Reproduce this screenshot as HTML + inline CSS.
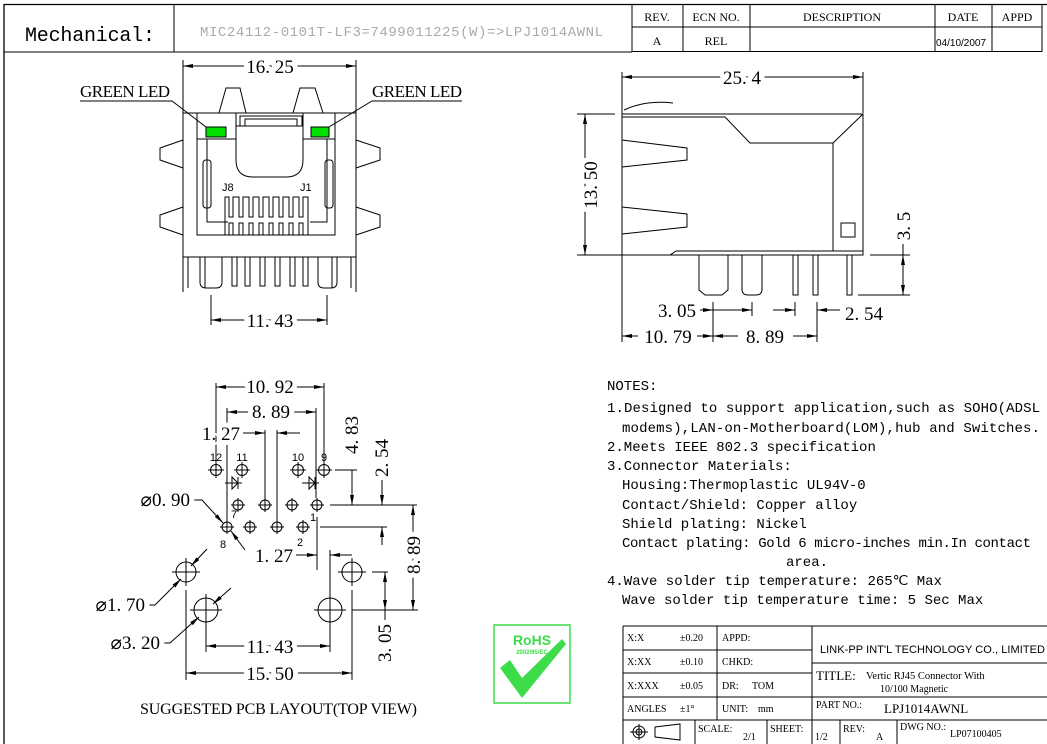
<!DOCTYPE html>
<html><head><meta charset="utf-8"><style>
html,body{margin:0;padding:0;background:#fff;}
svg{display:block;}
.s{font-family:"Liberation Serif",serif;fill:#000;}
.m{font-family:"Liberation Mono",monospace;fill:#000;}
.a{font-family:"Liberation Sans",sans-serif;fill:#000;}
.h text{stroke:#fff;stroke-width:10px;paint-order:stroke;stroke-linejoin:round;}
</style></head><body>
<svg width="1047" height="744" viewBox="0 0 1047 744" xmlns="http://www.w3.org/2000/svg">
<defs>
<marker id="ar" viewBox="0 0 10 4" refX="10" refY="2" markerWidth="10" markerHeight="4" markerUnits="userSpaceOnUse" orient="auto-start-reverse"><path d="M0,0 L10,2 L0,4 Z" fill="#000"/></marker>
</defs>
<g fill="none" stroke="#000" stroke-width="1">
<line x1="4" y1="4.5" x2="1047" y2="4.5" stroke-width="1.3"/>
<line x1="4" y1="4" x2="4" y2="744" stroke-width="1.3"/>
<line x1="174" y1="4" x2="174" y2="52"/>
<line x1="4" y1="52" x2="632" y2="52"/>
<rect x="632" y="4.5" width="410" height="47"/>
<line x1="632" y1="27" x2="1042" y2="27"/>
<line x1="683" y1="4" x2="683" y2="52"/>
<line x1="750" y1="4" x2="750" y2="52"/>
<line x1="935" y1="4" x2="935" y2="52"/>
<line x1="992" y1="4" x2="992" y2="52"/>

<line x1="183" y1="60" x2="183" y2="292"/>
<line x1="356" y1="60" x2="356" y2="292"/>
<line x1="183" y1="66" x2="356" y2="66" marker-start="url(#ar)" marker-end="url(#ar)"/>
<line x1="183" y1="113" x2="356" y2="113"/>
<path d="M219,113 L226,88 L240,88 L246,113"/>
<path d="M293,113 L300,88 L315,88 L323,113"/>
<path d="M183,140 L160,148 L160,160 L183,168"/>
<path d="M183,207 L160,215 L160,227 L183,235"/>
<path d="M356,140 L380,148 L380,160 L356,168"/>
<path d="M356,207 L380,215 L380,227 L356,235"/>
<rect x="197" y="113" width="138" height="122"/>
<line x1="197" y1="139" x2="236" y2="139"/>
<line x1="303" y1="139" x2="335" y2="139"/>
<path d="M236,113 V126 M303,113 V126"/>
<path d="M240,126 V116 H302 V126"/>
<path d="M245,126 V119 H297 V126"/>
<path d="M236,126 H303 V160 Q303,177 286,177 H253 Q236,177 236,160 Z"/>
<rect x="206" y="127" width="20" height="10" fill="#00e000"/>
<rect x="311" y="127" width="18" height="10" fill="#00e000"/>
<path d="M80,101 H172 L206,127"/>
<path d="M462,101 H372 L329,127"/>
<path d="M207,139 V222 H228 M327,139 V222 H310"/>
<rect x="203" y="160" width="8" height="48" rx="3"/>
<rect x="325" y="160" width="8" height="48" rx="3"/>
<path d="M225,235 V197 H229 V217 H233 V197 H239 V217 H243 V197 H249 V217 H253 V197 H259 V217 H263 V197 H269 V217 H273 V197 H279 V217 H283 V197 H289 V217 H293 V197 H299 V217 H303 V197 H308 V235"/>
<path d="M229,235 V223 H233 V235 M239,235 V223 H243 V235 M249,235 V223 H253 V235 M259,235 V223 H263 V235 M269,235 V223 H273 V235 M279,235 V223 H283 V235 M289,235 V223 H293 V235 M299,235 V223 H303 V235"/>
<line x1="183" y1="257" x2="356" y2="257"/>
<path d="M188,257 V288 M351,257 V288"/>
<path d="M200,257 V282 Q200,288 206,288 H216 Q222,288 222,282 V257 M205,257 V288"/>
<path d="M318,257 V282 Q318,288 324,288 H331 Q337,288 337,282 V257 M332,257 V288"/>
<path d="M232,257 V286 H237 V257 M245,257 V286 H250 V257 M260,257 V286 H265 V257 M275,257 V286 H280 V257 M290,257 V286 H295 V257 M303,257 V286 H308 V257"/>
<path d="M211,295 V325 M327,295 V325"/>
<line x1="211" y1="320" x2="327" y2="320" marker-start="url(#ar)" marker-end="url(#ar)"/>

<line x1="622" y1="72" x2="622" y2="342"/>
<line x1="863" y1="72" x2="863" y2="113"/>
<line x1="622" y1="77" x2="863" y2="77" marker-start="url(#ar)" marker-end="url(#ar)"/>
<path d="M622,114 H863 V255 H622 Z"/>
<path d="M624,110 Q645,100 673,103"/>
<path d="M622,117 H725 L750,143 H833 L863,114 M833,143 V251 H863"/>
<path d="M670,255 L676,251 H833"/>
<path d="M622,140 L687,148 V160 L622,167"/>
<path d="M622,207 L687,214 V227 L622,234"/>
<rect x="841" y="223" width="14" height="14"/>
<path d="M699,255 V290 L705,295 H722 L728,290 V255"/>
<path d="M742,255 V289 Q742,295 748,295 H756 Q762,295 762,289 V255"/>
<rect x="793" y="255" width="5" height="40"/>
<rect x="813" y="255" width="5" height="40"/>
<rect x="847" y="255" width="5" height="40"/>
<line x1="577" y1="114" x2="615" y2="114"/>
<line x1="577" y1="255" x2="622" y2="255"/>
<line x1="585" y1="114" x2="585" y2="255" marker-start="url(#ar)" marker-end="url(#ar)"/>
<line x1="870" y1="255" x2="910" y2="255"/>
<line x1="858" y1="295" x2="910" y2="295"/>
<line x1="903" y1="244" x2="903" y2="255"/>
<line x1="903" y1="255" x2="903" y2="295" marker-start="url(#ar)" marker-end="url(#ar)"/>
<line x1="713" y1="302" x2="713" y2="342"/>
<line x1="752" y1="302" x2="752" y2="316"/>
<line x1="700" y1="310" x2="713" y2="310" marker-end="url(#ar)"/>
<line x1="713" y1="310" x2="752" y2="310" marker-end="url(#ar)"/>
<line x1="795" y1="302" x2="795" y2="316"/>
<line x1="817" y1="302" x2="817" y2="342"/>
<line x1="773" y1="310" x2="795" y2="310" marker-end="url(#ar)"/>
<line x1="840" y1="310" x2="817" y2="310" marker-end="url(#ar)"/>
<line x1="638" y1="336" x2="622" y2="336" marker-end="url(#ar)"/>
<line x1="697" y1="336" x2="713" y2="336" marker-end="url(#ar)"/>
<line x1="738" y1="336" x2="713" y2="336" marker-end="url(#ar)"/>
<line x1="793" y1="336" x2="817" y2="336" marker-end="url(#ar)"/>

<circle cx="238" cy="505" r="5"/><circle cx="265" cy="505" r="5"/><circle cx="292" cy="505" r="5"/><circle cx="317" cy="505" r="5"/>
<circle cx="227" cy="527" r="5"/><circle cx="250" cy="527" r="5"/><circle cx="277" cy="527" r="5"/><circle cx="303" cy="527" r="5"/>
<circle cx="216" cy="470" r="5.5"/><circle cx="242" cy="470" r="5.5"/><circle cx="298" cy="470" r="5.5"/><circle cx="324" cy="470" r="5.5"/>
<circle cx="186" cy="572" r="10"/><circle cx="352" cy="572" r="10"/>
<circle cx="206" cy="610" r="12"/><circle cx="330" cy="610" r="12"/>
<path d="M231,505h14M238,498v14 M258,505h14M265,498v14 M285,505h14M292,498v14 M310,505h14M317,498v14 M220,527h14M227,520v14 M243,527h14M250,520v14 M270,527h14M277,520v14 M296,527h14M303,520v14 M208,470h16M216,462v16 M234,470h16M242,462v16 M290,470h16M298,462v16 M316,470h16M324,462v16 M172,572h28M186,558v28 M338,572h28M352,558v28 M190,610h32M206,594v32 M314,610h32M330,594v32"/>
<path d="M225,483 H242 M232,477 V489 L238,483 Z M238,477 V489"/>
<path d="M302,483 H319 M309,477 V489 L315,483 Z M315,477 V489"/>
<line x1="216" y1="383" x2="216" y2="462"/>
<line x1="324" y1="383" x2="324" y2="462"/>
<line x1="216" y1="387" x2="324" y2="387" marker-start="url(#ar)" marker-end="url(#ar)"/>
<line x1="227" y1="408" x2="227" y2="520"/>
<line x1="316" y1="408" x2="316" y2="498"/>
<line x1="227" y1="412" x2="316" y2="412" marker-start="url(#ar)" marker-end="url(#ar)"/>
<line x1="265" y1="430" x2="265" y2="498"/>
<line x1="277" y1="430" x2="277" y2="520"/>
<line x1="243" y1="433" x2="265" y2="433" marker-end="url(#ar)"/>
<line x1="300" y1="433" x2="277" y2="433" marker-end="url(#ar)"/>
<line x1="335" y1="470" x2="357" y2="470"/>
<line x1="330" y1="505" x2="417" y2="505"/>
<line x1="352" y1="470" x2="352" y2="505" marker-end="url(#ar)"/>
<line x1="320" y1="527" x2="387" y2="527"/>
<line x1="382" y1="480" x2="382" y2="505" marker-end="url(#ar)"/>
<line x1="382" y1="545" x2="382" y2="527" marker-end="url(#ar)"/>
<line x1="352" y1="610" x2="418" y2="610"/>
<line x1="413" y1="505" x2="413" y2="610" marker-start="url(#ar)" marker-end="url(#ar)"/>
<line x1="372" y1="572" x2="388" y2="572"/>
<line x1="385" y1="572" x2="385" y2="610" marker-start="url(#ar)" marker-end="url(#ar)"/>
<line x1="385" y1="610" x2="385" y2="620"/>
<line x1="317" y1="517" x2="317" y2="570"/>
<line x1="330" y1="550" x2="330" y2="596"/>
<line x1="330" y1="624" x2="330" y2="652"/>
<line x1="296" y1="555" x2="317" y2="555" marker-end="url(#ar)"/>
<line x1="352" y1="555" x2="330" y2="555" marker-end="url(#ar)"/>
<line x1="206" y1="625" x2="206" y2="652"/>
<line x1="206" y1="646" x2="330" y2="646" marker-start="url(#ar)" marker-end="url(#ar)"/>
<line x1="186" y1="590" x2="186" y2="680"/>
<line x1="352" y1="590" x2="352" y2="680"/>
<line x1="186" y1="673" x2="352" y2="673" marker-start="url(#ar)" marker-end="url(#ar)"/>
<path d="M190,500 H202 L223,523" marker-end="url(#ar)"/>
<line x1="245" y1="550" x2="231" y2="531" marker-end="url(#ar)"/>
<path d="M145,605 H155 L181,579" marker-end="url(#ar)"/>
<line x1="207" y1="549" x2="191" y2="566" marker-end="url(#ar)"/>
<path d="M160,643 H170 L199,617" marker-end="url(#ar)"/>
<line x1="231" y1="588" x2="213" y2="604" marker-end="url(#ar)"/>

<rect x="494" y="625" width="76" height="78" stroke="#3ddc4a" stroke-width="1.5"/>

<path d="M623,626 H1047 M623,626 V744 M717,626 V720 M812,626 V744"/>
<path d="M623,650 H812 M623,673 H812 M623,697 H812 M623,720 H1047 M812,663 H1047 M812,697 H1047"/>
<path d="M695,720 V744 M767,720 V744 M840,720 V744 M897,720 V744"/>
<circle cx="639" cy="732" r="6"/><circle cx="639" cy="732" r="3"/>
<path d="M630,732 H648 M639,724 V740 M655,727 L680,724 V740 L655,737 Z"/>
</g>

<text x="532" y="645" text-anchor="middle" class="a" font-size="14" font-weight="bold" style="fill:#3ddc4a">RoHS</text>
<text x="532" y="654" text-anchor="middle" class="a" font-size="6" font-weight="bold" style="fill:#3ddc4a">2002/95/EC</text>
<path d="M500,668 L510,660 L522,678 L562,639 L566,644 L522,698 Z" fill="#3ddc4a"/>

<text x="25" y="41" class="m" font-size="20" textLength="130">Mechanical:</text>
<text x="200" y="36" class="m" font-size="14" style="fill:#aaa" textLength="403">MIC24112-0101T-LF3=7499011225(W)=&gt;LPJ1014AWNL</text>
<g class="s" font-size="12">
<text x="657" y="21" text-anchor="middle">REV.</text>
<text x="716" y="21" text-anchor="middle">ECN NO.</text>
<text x="842" y="21" text-anchor="middle">DESCRIPTION</text>
<text x="963" y="21" text-anchor="middle">DATE</text>
<text x="1017" y="21" text-anchor="middle">APPD</text>
<text x="657" y="45" text-anchor="middle">A</text>
<text x="716" y="45" text-anchor="middle">REL</text>
</g>
<text x="936" y="46" class="a" font-size="10">04/10/2007</text>

<g class="s" font-size="17">
<text x="80" y="97" textLength="90">GREEN LED</text>
<text x="372" y="97" textLength="90">GREEN LED</text>
<text x="140" y="714" font-size="16" textLength="277">SUGGESTED PCB LAYOUT(TOP VIEW)</text>
</g>
<g class="s h" font-size="19">
<text x="270" y="73" text-anchor="middle">16. 25</text>
<text x="270" y="327" text-anchor="middle">11. 43</text>
<text x="742" y="84" text-anchor="middle">25. 4</text>
<text x="0" y="0" text-anchor="middle" transform="translate(597,185) rotate(-90)">13. 50</text>
<text x="0" y="0" text-anchor="middle" transform="translate(910,226) rotate(-90)">3. 5</text>
<text x="696" y="317" text-anchor="end">3. 05</text>
<text x="845" y="320">2. 54</text>
<text x="668" y="343" text-anchor="middle">10. 79</text>
<text x="765" y="343" text-anchor="middle">8. 89</text>
<text x="270" y="393" text-anchor="middle">10. 92</text>
<text x="271" y="418" text-anchor="middle">8. 89</text>
<text x="240" y="440" text-anchor="end">1. 27</text>
<text x="0" y="0" text-anchor="middle" transform="translate(358,435) rotate(-90)">4. 83</text>
<text x="0" y="0" text-anchor="middle" transform="translate(388,458) rotate(-90)">2. 54</text>
<text x="0" y="0" text-anchor="middle" transform="translate(420,555) rotate(-90)">8. 89</text>
<text x="0" y="0" text-anchor="middle" transform="translate(391,643) rotate(-90)">3. 05</text>
<text x="274" y="562" text-anchor="middle">1. 27</text>
<text x="190" y="506" text-anchor="end">⌀0. 90</text>
<text x="145" y="611" text-anchor="end">⌀1. 70</text>
<text x="160" y="649" text-anchor="end">⌀3. 20</text>
<text x="270" y="653" text-anchor="middle">11. 43</text>
<text x="270" y="680" text-anchor="middle">15. 50</text>
</g>
<g class="a" font-size="11">
<text x="222" y="191">J8</text><text x="300" y="191">J1</text>
<text x="216" y="461" text-anchor="middle">12</text><text x="242" y="461" text-anchor="middle">11</text>
<text x="298" y="461" text-anchor="middle">10</text><text x="324" y="461" text-anchor="middle">9</text>
<text x="234" y="518" text-anchor="middle">7</text><text x="313" y="521" text-anchor="middle">1</text>
<text x="223" y="548" text-anchor="middle">8</text><text x="300" y="546" text-anchor="middle">2</text>
</g>

<g class="m" font-size="14">
<text x="607" y="390">NOTES:</text>
<text x="607" y="412" textLength="433">1.Designed to support application,such as SOHO(ADSL</text>
<text x="622" y="432" textLength="418">modems),LAN-on-Motherboard(LOM),hub and Switches.</text>
<text x="607" y="451">2.Meets IEEE 802.3 specification</text>
<text x="607" y="470">3.Connector Materials:</text>
<text x="622" y="489">Housing:Thermoplastic UL94V-0</text>
<text x="622" y="509">Contact/Shield: Copper alloy</text>
<text x="622" y="528">Shield plating: Nickel</text>
<text x="622" y="547" textLength="409">Contact plating: Gold 6 micro-inches min.In contact</text>
<text x="786" y="566">area.</text>
<text x="607" y="585">4.Wave solder tip temperature: 265℃ Max</text>
<text x="622" y="604">Wave solder tip temperature time: 5 Sec Max</text>
</g>

<g class="s" font-size="10">
<text x="627" y="641">X:X</text><text x="680" y="641">±0.20</text><text x="722" y="641">APPD:</text>
<text x="627" y="665">X:XX</text><text x="680" y="665">±0.10</text><text x="722" y="665">CHKD:</text>
<text x="627" y="689">X:XXX</text><text x="680" y="689">±0.05</text><text x="722" y="689">DR:</text><text x="752" y="689">TOM</text>
<text x="627" y="712">ANGLES</text><text x="680" y="712">±1°</text><text x="722" y="712">UNIT:</text><text x="758" y="712">mm</text>
<text x="698" y="732">SCALE:</text><text x="743" y="740">2/1</text>
<text x="770" y="732">SHEET:</text><text x="815" y="740">1/2</text>
<text x="843" y="732">REV:</text><text x="876" y="740">A</text>
<text x="900" y="730">DWG NO.:</text><text x="950" y="737">LP07100405</text>
<text x="816" y="708">PART NO.:</text>
<text x="880" y="692">10/100 Magnetic</text>
</g>
<text x="820" y="653" class="a" font-size="11" textLength="225">LINK-PP INT'L TECHNOLOGY CO., LIMITED</text>
<text x="816" y="680" class="s" font-size="13">TITLE:</text>
<text x="866" y="679" class="s" font-size="10.5">Vertic RJ45 Connector With</text>
<text x="884" y="713" class="s" font-size="13">LPJ1014AWNL</text>
</svg>
</body></html>
